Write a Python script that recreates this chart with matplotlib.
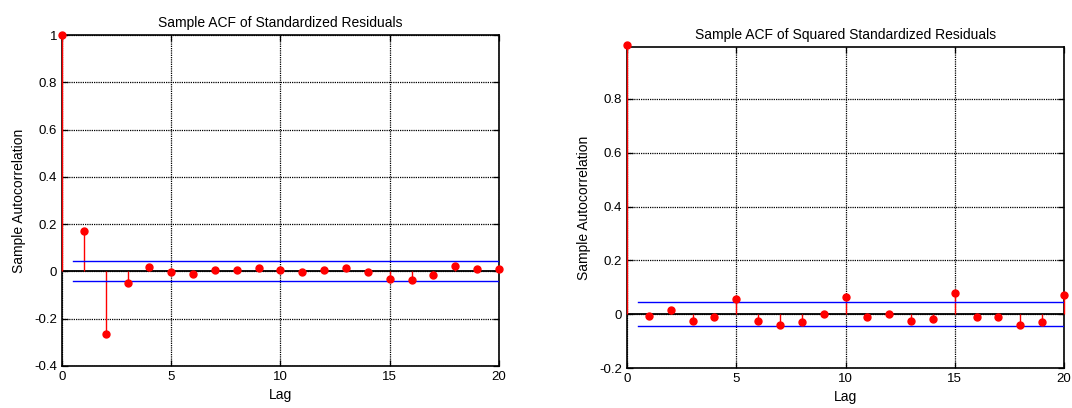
import matplotlib
matplotlib.use('Agg')
import matplotlib.pyplot as plt
import numpy as np

plt.rcParams['font.family'] = ['Liberation Sans', 'DejaVu Sans']
plt.rcParams['font.size'] = 9.5

lags = np.arange(0, 21)

# ACF of standardized residuals
acf_res = [1.0, 0.170, -0.265, -0.051, 0.018, -0.001, -0.011, 0.004, 0.004, 0.013,
           0.004, -0.001, 0.004, 0.013, -0.001, -0.031, -0.035, -0.017, 0.023, 0.009, 0.009]
bound_res = 0.0425

# ACF of squared standardized residuals
acf_sq = [1.0, -0.005, 0.016, -0.026, -0.012, 0.058, -0.026, -0.042, -0.030, -0.001,
          0.062, -0.012, -0.001, -0.026, -0.017, 0.078, -0.009, -0.012, -0.042, -0.030, 0.071]
bound_sq = 0.0435

titles = ['Sample ACF of Standardized Residuals', 'Sample ACF of Squared Standardized Residuals']


def acf_panel(ax, acf, bound, title, ylim, yticks):
    ax.set_xlim(0, 20)
    ax.set_ylim(*ylim)
    ax.grid(True, color='black', linestyle=(0, (1, 0.8)), linewidth=0.9)
    ax.set_axisbelow(True)
    ax.axhline(0, color='black', linewidth=1.3, zorder=2)
    ax.vlines(lags, 0, acf, colors='red', linewidth=1, zorder=3, clip_on=False)
    ax.plot(lags, acf, 'o', color='red', markersize=5, zorder=4, clip_on=False)
    ax.plot([0.5, 20], [bound, bound], color='blue', linewidth=1, zorder=3)
    ax.plot([0.5, 20], [-bound, -bound], color='blue', linewidth=1, zorder=3)
    ax.set_xticks([0, 5, 10, 15, 20])
    ax.set_yticks(yticks)
    ax.set_yticklabels(['%g' % t for t in yticks])
    ax.tick_params(direction='in', top=True, right=True, length=4, width=0.9)
    for s in ax.spines.values():
        s.set_linewidth(1.2)
    ax.set_title(title, fontsize=10)
    ax.set_xlabel('Lag', fontsize=10)
    ax.set_ylabel('Sample Autocorrelation', fontsize=10, labelpad=6)


fig = plt.figure(figsize=(10.72, 4.08), dpi=100)
ax1 = fig.add_axes([0.0578, 0.103, 0.4077, 0.811])
ax2 = fig.add_axes([0.585, 0.098, 0.4075, 0.787])

acf_panel(ax1, acf_res, bound_res, titles[0], (-0.4, 1.0), [-0.4, -0.2, 0, 0.2, 0.4, 0.6, 0.8, 1])
acf_panel(ax2, acf_sq, bound_sq, titles[1], (-0.2, 0.993), [-0.2, 0, 0.2, 0.4, 0.6, 0.8])

fig.savefig('out.png', dpi=100)
